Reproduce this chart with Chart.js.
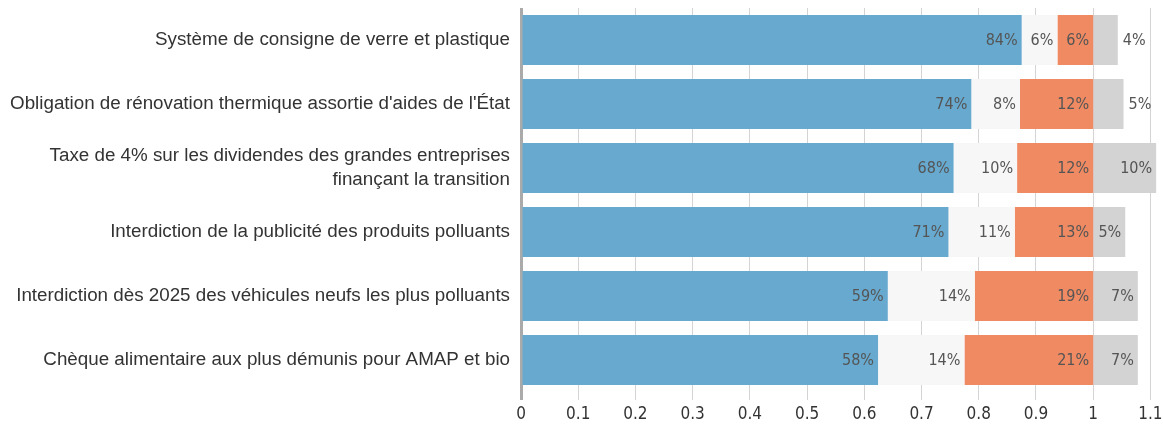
<!DOCTYPE html>
<html>
<head>
<meta charset="utf-8">
<script src="https://cdn.jsdelivr.net/npm/chart.js@4/dist/chart.umd.min.js"></script>
<style>
  html, body { margin: 0; padding: 0; background: #fff; }
  #wrap { width: 1163px; height: 426px; }
</style>
</head>
<body>
<div id="wrap"><canvas id="chart"></canvas></div>
<script>
// categories, top to bottom
const categories = [
	"Système de consigne de verre et plastique",
	"Obligation de rénovation thermique assortie d'aides de l'État",
	["Taxe de 4% sur les dividendes des grandes entreprises", "finançant la transition"],
	"Interdiction de la publicité des produits polluants",
	"Interdiction dès 2025 des véhicules neufs les plus polluants",
	"Chèque alimentaire aux plus démunis pour AMAP et bio",
];

// bar lengths
const forValues = [0.875, 0.787, 0.756, 0.747, 0.641, 0.624];
const neutralValues = [0.0625, 0.085, 0.111, 0.116, 0.152, 0.151];
const againstValues = [0.0625, 0.128, 0.133, 0.137, 0.207, 0.225];
const noAnswerValues = [0.043, 0.053, 0.11, 0.056, 0.078, 0.078];

// percentages printed on the segments
const forLabels = ["84%", "74%", "68%", "71%", "59%", "58%"];
const neutralLabels = ["6%", "8%", "10%", "11%", "14%", "14%"];
const againstLabels = ["6%", "12%", "12%", "13%", "19%", "21%"];
const noAnswerLabels = ["4%", "5%", "10%", "5%", "7%", "7%"];

const xTicks = [0, 0.1, 0.2, 0.3, 0.4, 0.5, 0.6, 0.7, 0.8, 0.9, 1, 1.1];

// draws the percentage at the end of each segment
// (outside the bar when the segment is too narrow)
const segmentLabels = {
	id: "segmentLabels",
	afterDatasetsDraw(chart) {
		const ctx = chart.ctx;
		ctx.save();
		ctx.font = "16px 'DejaVu Sans Condensed'";
		ctx.fillStyle = "#555";
		ctx.textBaseline = "middle";
		chart.data.datasets.forEach((ds, di) => {
			const meta = chart.getDatasetMeta(di);
			meta.data.forEach((bar, i) => {
				const p = bar.getProps(["x", "y", "base"], true);
				const text = ds.segmentText[i];
				const w = ctx.measureText(text).width;
				if (p.x - p.base < w + 8) {
					ctx.textAlign = "left";
					ctx.fillText(text, p.x + 5, p.y + 1);
				} else {
					ctx.textAlign = "right";
					ctx.fillText(text, p.x - 4, p.y + 1);
				}
			});
		});
		ctx.restore();
	},
};

new Chart(document.getElementById("chart"), {
	type: "bar",
	data: {
		labels: categories,
		datasets: [
			{ data: forValues, segmentText: forLabels, backgroundColor: "#67a9cf" },
			{ data: neutralValues, segmentText: neutralLabels, backgroundColor: "#f7f7f7" },
			{ data: againstValues, segmentText: againstLabels, backgroundColor: "#ef8a62" },
			{ data: noAnswerValues, segmentText: noAnswerLabels, backgroundColor: "#d3d3d3" },
		],
	},
	options: {
		indexAxis: "y",
		responsive: true,
		maintainAspectRatio: false,
		animation: false,
		barPercentage: 0.78,
		categoryPercentage: 1,
		layout: { padding: { top: 8, right: 0, left: 0, bottom: 0 } },
		scales: {
			x: {
				stacked: true,
				min: 0,
				max: 1.122,
				afterBuildTicks: (axis) => {
					axis.ticks = xTicks.map((v) => ({ value: v }));
				},
				afterFit: (axis) => {
					axis.height = 34;
					axis.paddingLeft = 0;
					axis.paddingRight = 0;
				},
				border: { display: false },
				grid: {
					color: (c) => (c.index === 0 ? "#aaa" : "#d4d4d4"),
					lineWidth: (c) => (c.index === 0 ? 3 : 1),
					tickLength: 8,
				},
				ticks: {
					color: "#333",
					font: { family: "DejaVu Sans Condensed", size: 17, lineHeight: 1.1 },
					padding: 5,
					maxRotation: 0,
					callback: (v) => String(Math.round(v * 10) / 10),
				},
			},
			y: {
				stacked: true,
				afterFit: (axis) => {
					axis.width = 521;
					axis.paddingTop = 0;
					axis.paddingBottom = 0;
				},
				border: { display: false },
				grid: { display: false, drawTicks: false },
				ticks: {
					color: "#333",
					font: { family: "Liberation Sans", size: 18.8, lineHeight: 1.28 },
					padding: 11,
				},
			},
		},
		plugins: {
			legend: { display: false },
			tooltip: { enabled: false },
		},
	},
	plugins: [segmentLabels],
});
</script>
</body>
</html>
